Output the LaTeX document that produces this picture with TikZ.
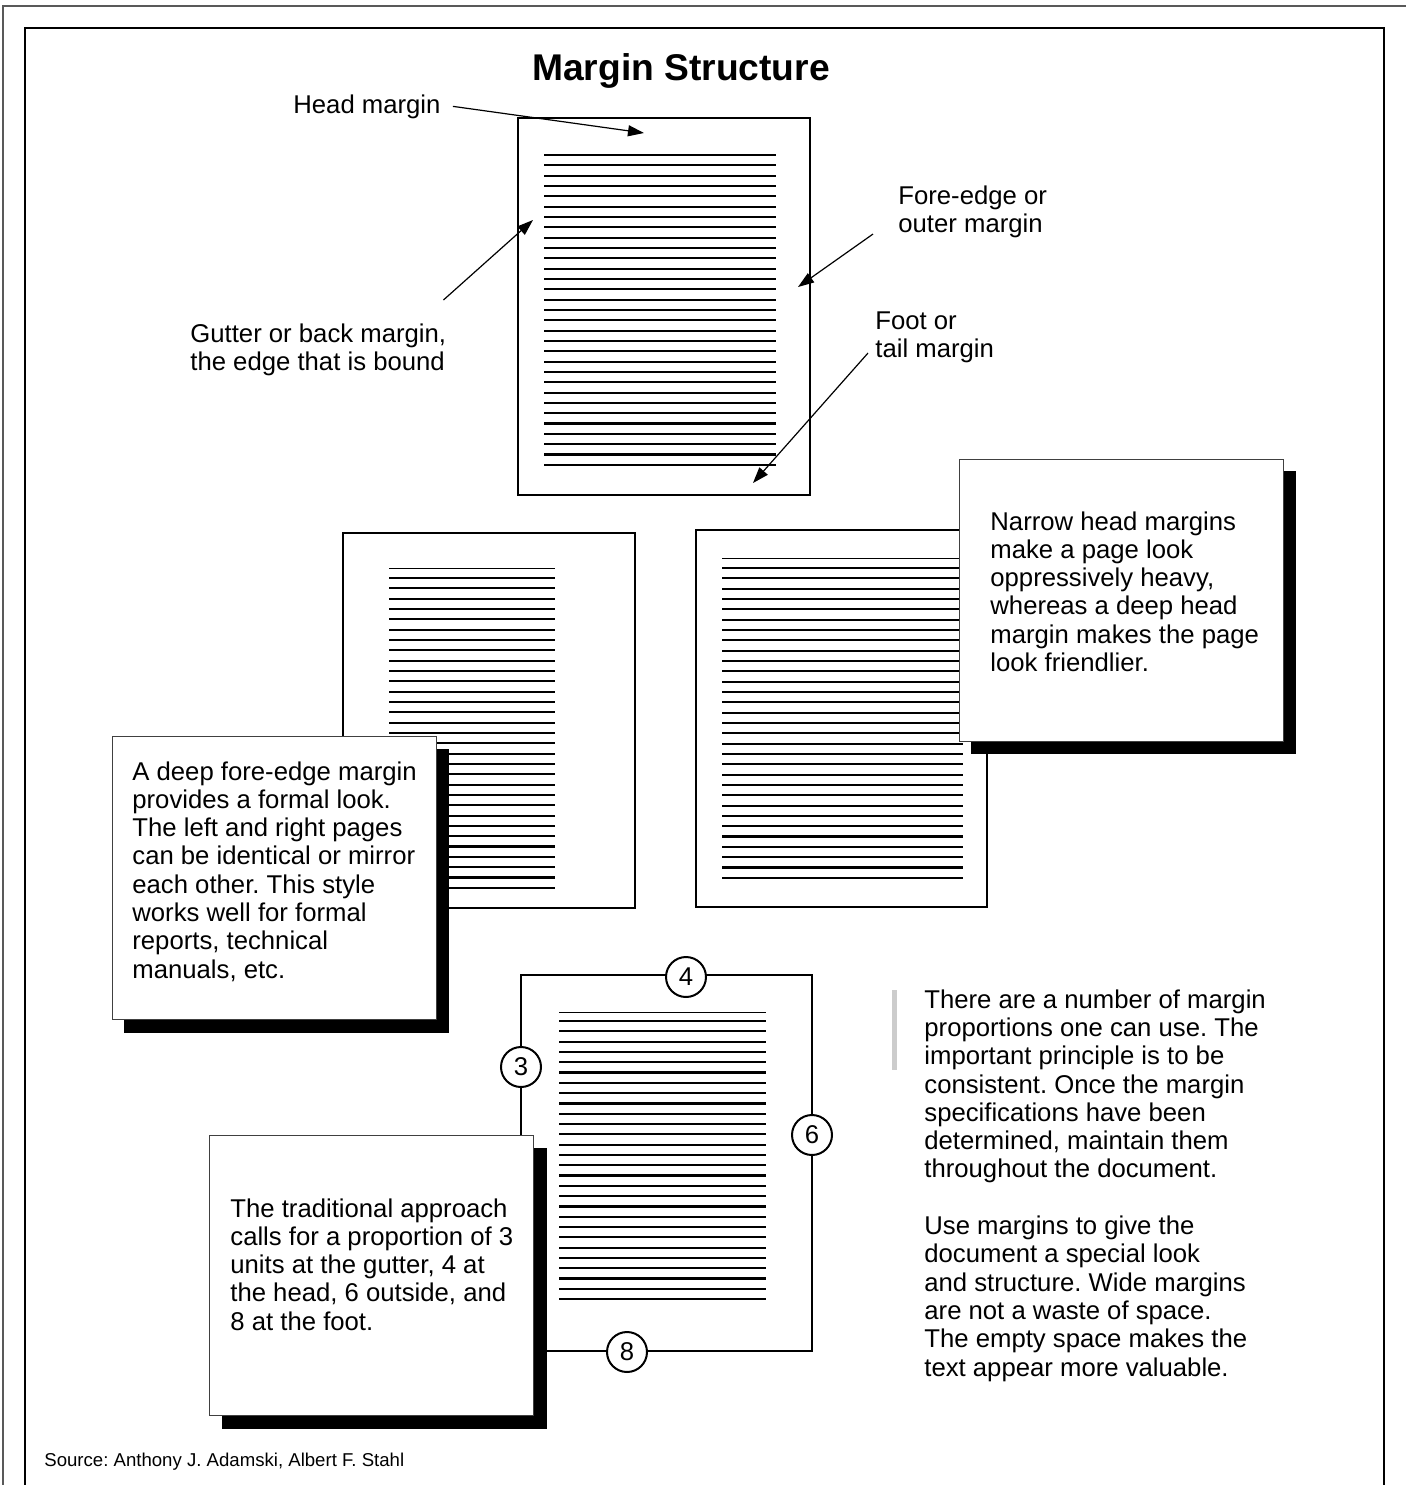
\documentclass[tikz,border=0pt]{standalone}
\usepackage{fontspec}
\setmainfont{Liberation Sans}
\usetikzlibrary{arrows.meta}
\begin{document}
\frenchspacing
\begin{tikzpicture}[x=0.5pt,y=-0.5pt,
  pageframe/.style={draw=black, line width=1.2pt, fill=white},
  tline/.style={line width=1.1pt},
  thinline/.style={line width=0.5pt},
  calloutbox/.style={draw=black!75, line width=0.5pt, fill=white},
  shadowbox/.style={fill=black},
  bodytext/.style={font=\fontsize{12.85}{14.15}\selectfont, align=left, anchor=base west, inner sep=0pt},
  pointer/.style={line width=0.6pt, -{Triangle[length=8pt,width=5.5pt]}},
  unitmark/.style={circle, draw, line width=1pt, fill=white, minimum size=20pt, inner sep=0pt, font=\fontsize{12.85}{14}\selectfont}
]
\useasboundingbox (0,0) rectangle (1406,1485);
\clip (0,0) rectangle (1406,1485);
% frames
\draw[draw=black!65, line width=1pt] (3,1500) -- (3,6) -- (1420,6);
\draw[line width=0.9pt] (25,1500) -- (25,28) -- (1384,28) -- (1384,1500);
% title
\node[font=\bfseries\fontsize{18.6}{22}\selectfont, anchor=base, inner sep=0pt] (title) at (681,80) {Margin Structure};
% top page
\draw[pageframe] (518,118) rectangle (810,495);
\foreach \k in {0,...,30} \draw[tline] (544,{155+10.33*\k}) -- (776,{155+10.33*\k});
% labels (anchor = baseline of last line)
\node[bodytext] (headlbl) at (293,113) {Head margin};
\node[bodytext] (gutterlbl) at (190,370.3) {Gutter or back margin,\\the edge that is bound};
\node[bodytext] (forelbl) at (898,232.3) {Fore-edge or\\outer margin};
\node[bodytext] (footlbl) at (875,357.3) {Foot or\\tail margin};
\coordinate (headtip) at (644,133);
\coordinate (guttertip) at (533,220);
\coordinate (foretip) at (798,287);
\coordinate (foottip) at (753,483);
\draw[pointer] ([xshift=6pt]headlbl.east) -- (headtip);
\draw[pointer] ([shift={(-1.5pt,11.5pt)}]gutterlbl.north east) -- (guttertip);
\draw[pointer] ([shift={(-12.5pt,2pt)}]forelbl.south west) -- (foretip);
\draw[pointer] ([shift={(-3.5pt,5pt)}]footlbl.south west) -- (foottip);
% left page
\draw[pageframe] (343,533) rectangle (635,908);
\draw[thinline] (389,568) -- (555,568);
\foreach \k in {0,...,30} \draw[tline] (389,{578+10.33*\k}) -- (555,{578+10.33*\k});
\fill[shadowbox] (124,749) rectangle (449,1033);
\draw[calloutbox] (112,736) rectangle (436,1019);
\node[bodytext] (leftnote) at (132,978.1) {A deep fore-edge margin\\provides a formal look.\\The left and right pages\\can be identical or mirror\\each other. This style\\works well for formal\\reports, technical\\manuals, etc.};
% right page
\draw[pageframe] (696,530) rectangle (987,907);
\draw[thinline] (722,558) -- (963,558);
\foreach \k in {0,...,30} \draw[tline] (722,{568+10.33*\k}) -- (963,{568+10.33*\k});
\fill[shadowbox] (971,471) rectangle (1296,754);
\draw[calloutbox] (959,459) rectangle (1283,741);
\node[bodytext] (rightnote) at (990,671.5) {Narrow head margins\\make a page look\\oppressively heavy,\\whereas a deep head\\margin makes the page\\look friendlier.};
% bottom page
\draw[pageframe] (521,975) rectangle (812,1351);
\draw[thinline] (559,1012) -- (766,1012);
\foreach \k in {0,...,27} \draw[tline] (559,{1021+10.3*\k}) -- (766,{1021+10.3*\k});
\node[unitmark] (m4) at (686,977) {4};
\node[unitmark] (m3) at (521,1067) {3};
\node[unitmark] (m6) at (812,1135) {6};
\node[unitmark] (m8) at (627,1352) {8};
\fill[shadowbox] (222,1148) rectangle (547,1429);
\draw[calloutbox] (209,1135) rectangle (533,1415);
\node[bodytext] (bottomnote) at (230,1330.2) {The traditional approach\\calls for a proportion of 3\\units at the gutter, 4 at\\the head, 6 outside, and\\8 at the foot.};
% side text
\fill[black!20] (892,990) rectangle (897,1070);
\node[bodytext] (sidenote) at (924,1376) {There are a number of margin\\proportions one can use. The\\important principle is to be\\consistent. Once the margin\\specifications have been\\determined, maintain them\\throughout the document.\\[14.15pt]Use margins to give the\\document a special look\\and structure. Wide margins\\are not a waste of space.\\The empty space makes the\\text appear more valuable.};
% source
\node[font=\fontsize{9.3}{11}\selectfont, anchor=base west, inner sep=0pt] (source) at (44,1466) {Source: Anthony J. Adamski, Albert F. Stahl};
\end{tikzpicture}
\end{document}
